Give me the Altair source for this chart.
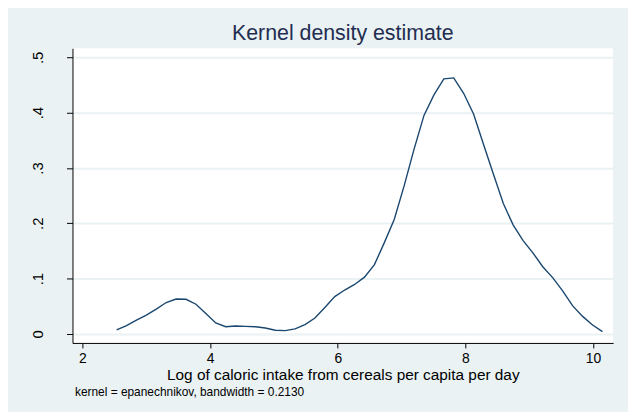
import altair as alt
import pandas as pd

# Evaluation points of the kernel density estimate
xs = [2.536, 2.691, 2.847, 3.002, 3.157, 3.313, 3.468, 3.623, 3.779, 3.934,
      4.089, 4.245, 4.400, 4.555, 4.711, 4.866, 5.021, 5.177, 5.332, 5.487,
      5.643, 5.798, 5.953, 6.109, 6.264, 6.419, 6.575, 6.730, 6.885, 7.041,
      7.196, 7.351, 7.507, 7.662, 7.817, 7.972, 8.128, 8.283, 8.438, 8.594,
      8.749, 8.904, 9.060, 9.215, 9.370, 9.526, 9.681, 9.836, 9.992, 10.147]
# Density values
ys = [0.0072, 0.0149, 0.0250, 0.0340, 0.0447, 0.0567, 0.0630, 0.0626, 0.0537, 0.0370,
      0.0197, 0.0130, 0.0143, 0.0137, 0.0130, 0.0107, 0.0066, 0.0060, 0.0090, 0.0167,
      0.0286, 0.0477, 0.0674, 0.0793, 0.0894, 0.1026, 0.1252, 0.1650, 0.2070, 0.2680,
      0.3340, 0.3950, 0.4320, 0.4610, 0.4628, 0.4350, 0.3977, 0.3430, 0.2890, 0.2356,
      0.1968, 0.1687, 0.1460, 0.1210, 0.1014, 0.0775, 0.0506, 0.0317, 0.0161, 0.0041]

x_ticks = [2, 4, 6, 8, 10]
y_ticks = [0, 0.1, 0.2, 0.3, 0.4, 0.5]

title_text = "Kernel density estimate"
x_title = "Log of caloric intake from cereals per capita per day"
note_text = "kernel = epanechnikov, bandwidth = 0.2130"

FONT = "Liberation Sans"
LINE = "#1a476f"
BG = "#eaf2f3"

df = pd.DataFrame({"x": xs, "y": ys})

line = alt.Chart(df).mark_line(color=LINE, strokeWidth=1.4).encode(
    x=alt.X("x:Q",
            scale=alt.Scale(domain=[1.8445, 10.314], nice=False, zero=False),
            axis=alt.Axis(values=x_ticks, title=x_title, grid=False,
                          domainColor="black", domainWidth=1,
                          tickColor="black", tickSize=5, tickWidth=1,
                          labelFont=FONT, labelFontSize=14, labelColor="black",
                          labelPadding=4, labelFlush=False,
                          titleFont=FONT, titleFontSize=15.5, titleFontWeight="normal",
                          titleColor="black", titlePadding=2)),
    y=alt.Y("y:Q",
            scale=alt.Scale(domain=[-0.0163, 0.5163], nice=False, zero=False),
            axis=alt.Axis(values=y_ticks, title=None, grid=True,
                          gridColor=BG, gridWidth=2,
                          domainColor="black", domainWidth=1,
                          tickColor="black", tickSize=6, tickWidth=1,
                          labelExpr="datum.value == 0 ? '0' : slice(format(datum.value, '.1f'), 1)",
                          labelAngle=270, labelAlign="center", labelBaseline="alphabetic",
                          labelFont=FONT, labelFontSize=15, labelColor="black",
                          labelPadding=24, labelFlush=False)),
)

note = alt.Chart(pd.DataFrame({"t": [note_text]})).mark_text(
    font=FONT, fontSize=12, color="black", align="left", baseline="alphabetic"
).encode(x=alt.value(2.5), y=alt.value(350), text="t:N")

chart = alt.layer(line, note).properties(
    width=545, height=297,
    title=alt.TitleParams(title_text, font=FONT, fontSize=21.5, fontWeight="normal",
                          color="#1f2d50", anchor="middle", offset=4),
    background=BG,
    padding={"left": 65, "top": 39, "right": 15, "bottom": 68},
    autosize=alt.AutoSizeParams(type="none"),
).configure_view(fill="white", strokeWidth=0)

chart.save("out.html", embed_options={"renderer": "svg", "actions": False})
